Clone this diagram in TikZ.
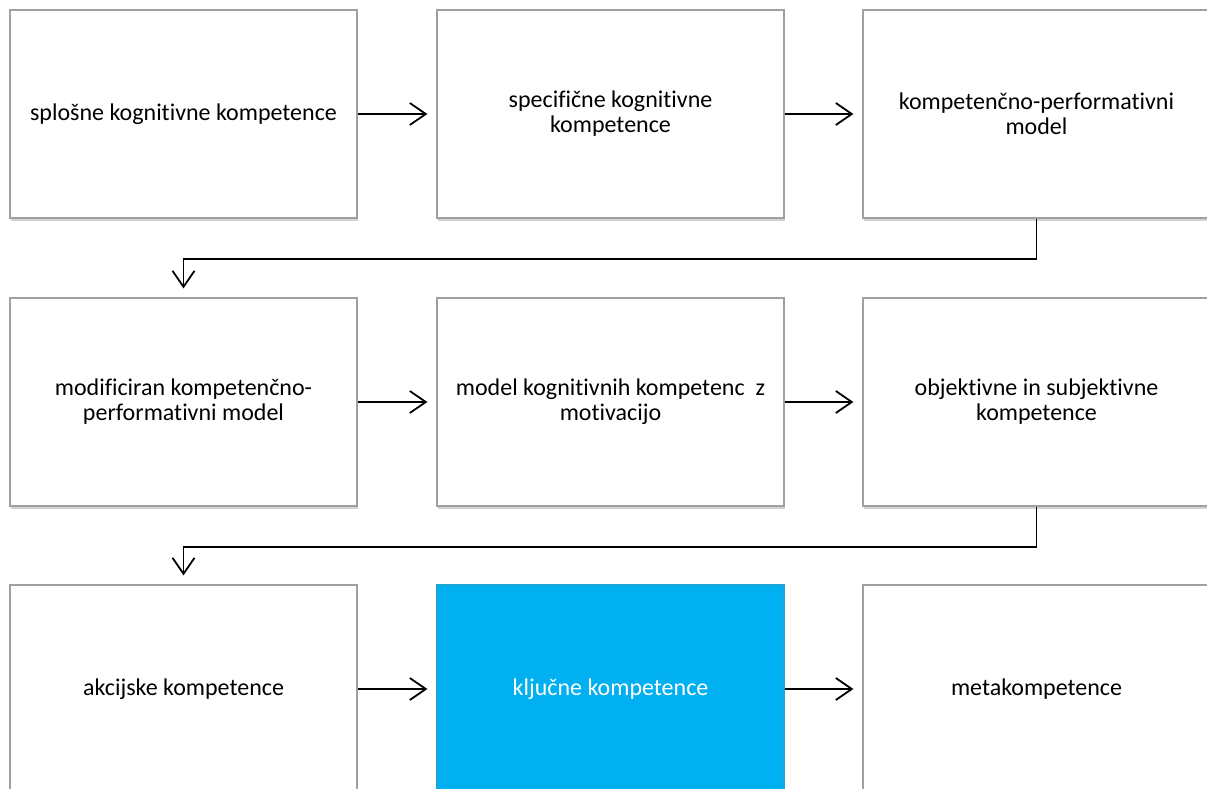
\documentclass[tikz,border=0pt]{standalone}
\usepackage{fontspec}
\setmainfont{Carlito}[Ligatures=NoCommon]
\usepackage{tikz}
\usetikzlibrary{positioning,arrows.meta,shadows}
\definecolor{boxgray}{HTML}{A0A0A0}
\definecolor{keyblue}{HTML}{00B0F0}

\begin{document}
\begin{tikzpicture}[
  x=1pt, y=-1pt,
  stage/.style={
    draw=boxgray, line width=1.2pt, fill=white,
    minimum width=347pt, minimum height=208pt, inner sep=0pt,
    align=center, font=\fontsize{24}{25}\selectfont,
    drop shadow={shadow xshift=1pt, shadow yshift=-2.5pt, opacity=0.35}
  },
  flow/.style={
    -{Straight Barb[length=16pt, width=22pt]}, line width=1.8pt,
    shorten >=9pt
  }
]
\clip (0,0) rectangle (1207,789);

% Fila 1
\node[stage] (splosne) at (183.5,114) {splošne kognitivne kompetence};
\node[stage] (specificne) at (610.5,114) {specifične kognitivne\\kompetence};
\node[stage] (kpmodel) at (1036.5,114) {kompetenčno-performativni\\model};

% Fila 2
\node[stage] (modificiran) at (183.5,402) {modificiran kompetenčno-\\performativni model};
\node[stage] (motivacija) at (610.5,402) {model kognitivnih kompetenc\ \ z\\motivacijo};
\node[stage] (objektivne) at (1036.5,402) {objektivne in subjektivne\\kompetence};

% Fila 3
\node[stage] (akcijske) at (183.5,689) {akcijske kompetence};
\node[stage, fill=keyblue, draw=keyblue!75!gray, text=white] (kljucne) at (610.5,689) {ključne kompetence};
\node[stage] (meta) at (1036.5,689) {metakompetence};

% Flechas
\draw[flow] (splosne) -- (specificne);
\draw[flow] (specificne) -- (kpmodel);
\draw[flow] (kpmodel.south) -- ++(0,40) -| (modificiran.north);
\draw[flow] (modificiran) -- (motivacija);
\draw[flow] (motivacija) -- (objektivne);
\draw[flow] (objektivne.south) -- ++(0,40) -| (akcijske.north);
\draw[flow] (akcijske) -- (kljucne);
\draw[flow] (kljucne) -- (meta);
\end{tikzpicture}
\end{document}
